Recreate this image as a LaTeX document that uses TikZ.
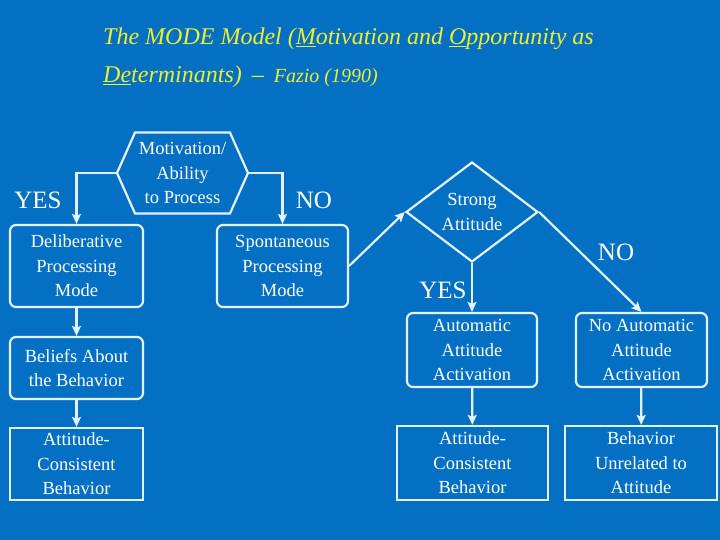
\documentclass[tikz,border=0pt]{standalone}
\usepackage{fontspec}
\setmainfont{Liberation Serif}
\usetikzlibrary{shapes,shapes.geometric,shapes.symbols,arrows.meta,positioning}

\definecolor{slideblue}{RGB}{4,112,196}
\definecolor{linepale}{RGB}{228,242,255}
\definecolor{titleyellow}{RGB}{238,238,50}

\begin{document}
\begin{tikzpicture}[x=1pt, y=-1pt,
    mode/.style={rectangle, rounded corners=6pt, draw=linepale, fill=slideblue,
                 minimum width=132pt, minimum height=82pt, inner sep=2pt,
                 align=center, text=white, line width=2.2pt,
                 font=\fontsize{18.5}{24.5}\selectfont},
    result/.style={mode, rounded corners=0pt},
    choice/.style={draw=linepale, fill=slideblue, inner sep=0pt,
                   align=center, text=white, line width=2.2pt,
                   font=\fontsize{18.5}{24.5}\selectfont},
    answer/.style={text=white, inner sep=0pt, font=\fontsize{25}{25}\selectfont},
    arrow/.style={-{Stealth[length=10pt, width=9pt, inset=2pt]}, draw=linepale, line width=2.2pt}
]
    % Frame and title
    \fill[slideblue] (0,0) rectangle (720,540);
    \useasboundingbox (0,0) rectangle (720,540);
    \node[anchor=base west, align=left, inner sep=0pt, text=titleyellow,
          font=\itshape\fontsize{24}{38}\selectfont] (title) at (103,83)
        {The MODE Model (\underline{M}otivation and \underline{O}pportunity as\\
         \underline{De}terminants) \,--\, {\fontsize{20}{38}\selectfont Fazio (1990)}};

    % Left branch: first question
    \node[choice, signal, signal to=west and east, signal pointer angle=132,
          minimum width=131pt, minimum height=81pt] (motiv) at (182.5,173)
        {Motivation/\\Ability\\to Process};
    \node[mode, minimum width=133pt] (delib) at (76.5,266) {Deliberative\\Processing\\Mode};
    \node[mode, minimum width=131pt] (spont) at (282.5,266) {Spontaneous\\Processing\\Mode};
    \node[mode, minimum width=133pt, minimum height=62pt] (beliefs) at (76.5,368)
        {Beliefs About\\the Behavior};
    \node[result, minimum width=133pt, minimum height=72pt] (consleft) at (76.5,464)
        {Attitude-\\Consistent\\Behavior};

    % Right branch: attitude strength
    \node[choice, diamond, aspect=1.32, minimum width=132pt, minimum height=100pt]
        (strong) at (472,212) {Strong\\Attitude};
    \node[mode, minimum width=130pt, minimum height=74pt] (auto) at (472,350)
        {Automatic\\Attitude\\Activation};
    \node[mode, minimum width=131pt, minimum height=74pt] (noauto) at (641.5,350)
        {No Automatic\\Attitude\\Activation};
    \node[result, minimum width=151pt, minimum height=74pt] (consright) at (472.5,463)
        {Attitude-\\Consistent\\Behavior};
    \node[result, minimum width=152pt, minimum height=74pt] (unrel) at (641,463)
        {Behavior\\Unrelated to\\Attitude};

    % Answers
    \node[answer] (yesleft) at (38,200) {YES};
    \node[answer] (noleft) at (314,200) {NO};
    \node[answer] (yesright) at (443,290) {YES};
    \node[answer] (noright) at (616,252) {NO};

    % Connectors
    \draw[arrow] (motiv.west) -| (delib.north);
    \draw[arrow] (motiv.east) -| (spont.north);
    \draw[arrow] (delib) -- (beliefs);
    \draw[arrow] (beliefs) -- (consleft);
    \draw[arrow] (spont.east) -- (strong.west);
    \draw[arrow] (strong.south) -- (auto);
    \draw[arrow] (strong.east) -- (noauto.north);
    \draw[arrow] (auto) -- (consright);
    \draw[arrow] (noauto) -- (unrel);
\end{tikzpicture}
\end{document}
